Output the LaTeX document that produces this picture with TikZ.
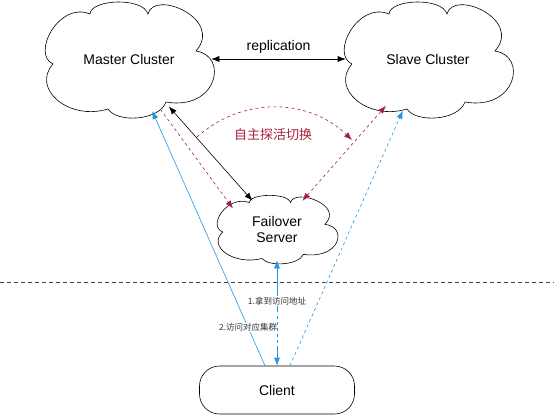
\documentclass[tikz,border=0pt]{standalone}
\usepackage{fontspec}
\setmainfont{Liberation Sans}
\newfontfamily\cjk{Noto Sans CJK SC}
\usetikzlibrary{shapes.geometric,arrows.meta}
\definecolor{probered}{RGB}{168,32,60}
\definecolor{linkblue}{RGB}{32,150,228}
\definecolor{sepgray}{RGB}{70,70,70}
% cloud outline round a node, #2 and #3 scale it
\newcommand{\cloudline}[3]{%
	\draw[shift={(#1.center)},xscale=#2,yscale=#3] (-39,-45)
		.. controls (-38,-60) and (14,-62) .. (19,-45)
		.. controls (25,-70) and (95,-40) .. (67,-8)
		.. controls (100,-3) and (88,52) .. (37,43)
		.. controls (30,62) and (-12,64) .. (-21,50)
		.. controls (-60,62) and (-98,30) .. (-76,5)
		.. controls (-98,-5) and (-70,-58) .. cycle;}
\begin{document}
\begin{tikzpicture}[x=1pt,y=-1pt,line width=0.6pt,
		cluster/.style={ellipse,minimum width=164pt,minimum height=108pt,font=\fontsize{14}{16}\selectfont},
		tip/.style={-{Latex[length=8pt,width=6pt]}},
		biptip/.style={{Latex[length=8pt,width=6pt]}-{Latex[length=8pt,width=6pt]}},
		steplabel/.style={fill=white,inner sep=1pt,text=black!80,font=\fontsize{8.5}{10}\selectfont\cjk}]
		\useasboundingbox (0,0) rectangle (554,418);
		\node[cluster] (master) at (129,59) {Master Cluster};
		\node[cluster] (slave) at (428,59) {Slave Cluster};
		\node[ellipse,minimum width=116pt,minimum height=62pt,align=center,font=\fontsize{14}{16}\selectfont] (failover) at (277,229) {Failover\\Server};
		\node[draw,rounded corners=20pt,minimum width=155pt,minimum height=48pt,font=\fontsize{14}{16}\selectfont] (client) at (277,390) {Client};
		\cloudline{master}{1}{1}
		\cloudline{slave}{1}{1}
		\cloudline{failover}{0.714}{0.59}
		% separator
		\draw[sepgray,dash pattern=on 4pt off 3pt] (0,282) -- (554,282);
		% replication
		\draw[biptip] (master.east) -- (slave.west) node[midway,above=2pt,font=\fontsize{14}{16}\selectfont] {replication};
		\draw[biptip] (master.-50) -- (failover.131);
		% probing
		\draw[tip,probered,dashed] (master.-58) -- (failover.155);
		\draw[biptip,probered,dashed] (failover.48) -- (slave.-132);
		\coordinate (arcL) at (197,137);
		\coordinate (arcR) at (352,140);
		\draw[tip,probered,dashed] (arcL) to[bend left=43] (arcR);
		\node[probered,font=\fontsize{13}{15}\selectfont\cjk] (probe) at (273,135) {自主探活切换};
		% client access
		\draw[tip,linkblue] ([xshift=-12pt]client.north) -- (master.-66)
			node[steplabel,pos=0.15] {2.访问对应集群};
		\draw[tip,linkblue,dashed] ([xshift=13pt]client.north) -- (slave.-116);
		\draw[biptip,linkblue,dash pattern=on 44pt off 4pt on 3pt off 3pt on 3pt off 3pt on 3pt off 3pt on 3pt off 3pt on 3pt off 3pt on 40pt] (failover.south) -- (client.north)
			node[steplabel,pos=0.39] {1.拿到访问地址};
	\end{tikzpicture}
\end{document}
